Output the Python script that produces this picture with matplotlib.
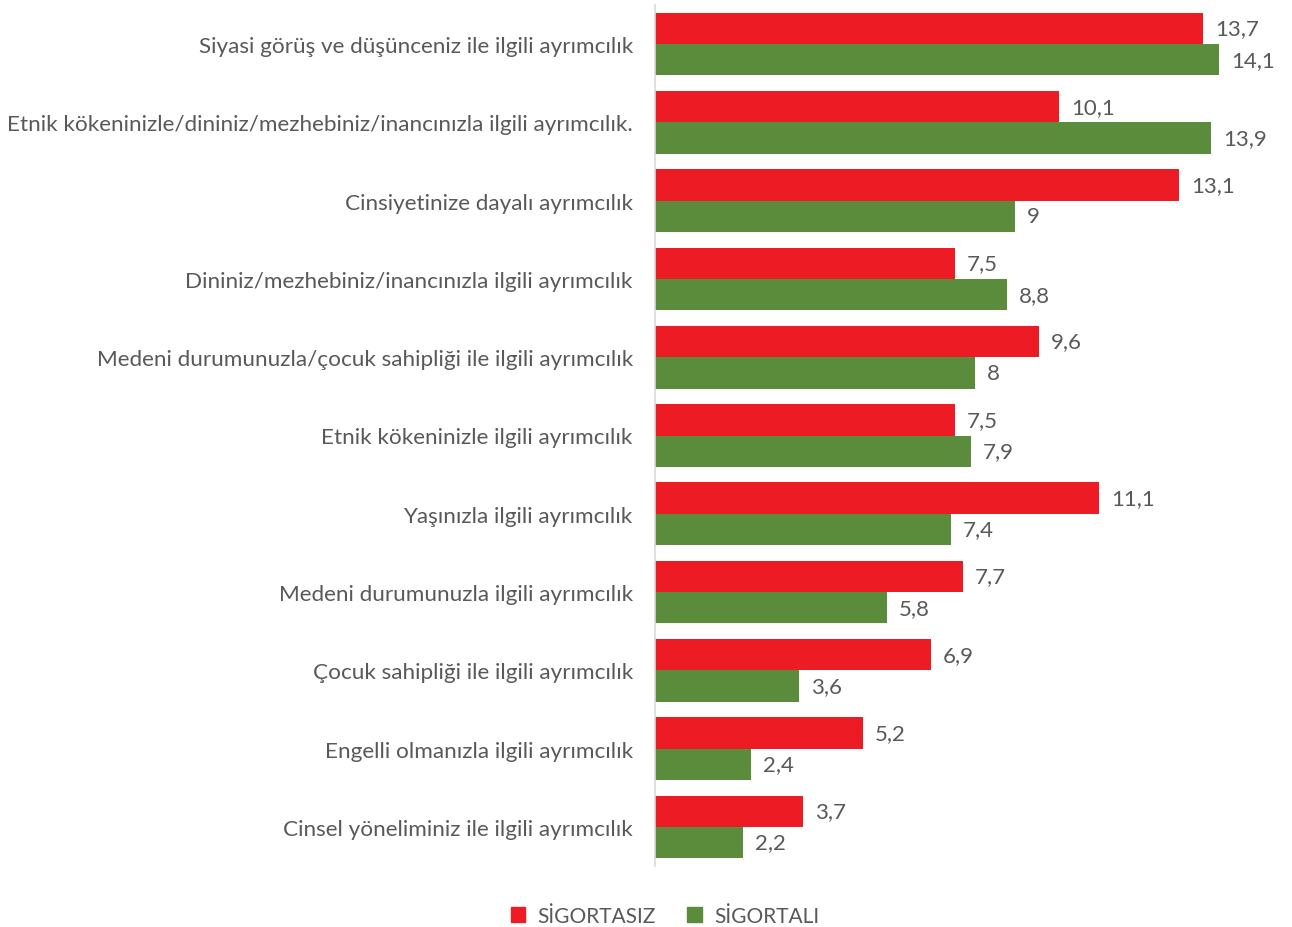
import matplotlib.pyplot as plt
import matplotlib as mpl
import numpy as np
from matplotlib.patches import Patch

mpl.rcParams["font.family"] = ["Lato", "DejaVu Sans"]

# --------- Veriler ---------
kategoriler = [
    "Siyasi görüş ve düşünceniz ile ilgili ayrımcılık",
    "Etnik kökeninizle/dininiz/mezhebiniz/inancınızla ilgili ayrımcılık.",
    "Cinsiyetinize dayalı ayrımcılık",
    "Dininiz/mezhebiniz/inancınızla ilgili ayrımcılık",
    "Medeni durumunuzla/çocuk sahipliği ile ilgili ayrımcılık",
    "Etnik kökeninizle ilgili ayrımcılık",
    "Yaşınızla ilgili ayrımcılık",
    "Medeni durumunuzla ilgili ayrımcılık",
    "Çocuk sahipliği ile ilgili ayrımcılık",
    "Engelli olmanızla ilgili ayrımcılık",
    "Cinsel yöneliminiz ile ilgili ayrımcılık",
]
sigortasiz = [13.7, 10.1, 13.1, 7.5, 9.6, 7.5, 11.1, 7.7, 6.9, 5.2, 3.7]
sigortali = [14.1, 13.9, 9.0, 8.8, 8.0, 7.9, 7.4, 5.8, 3.6, 2.4, 2.2]

KIRMIZI = "#ED1C24"
YESIL = "#5B8C3C"
GRI = "#595959"


def etiket(v):
    s = f"{v:.1f}".replace(".", ",")
    return s[:-2] if s.endswith(",0") else s


W, H = 1292, 928
fig = plt.figure(figsize=(W / 100, H / 100), dpi=100)
ax = fig.add_axes([655 / W, 1 - 867 / H, 632 / W, (867 - 6) / H])

y = np.arange(len(kategoriler))
h = 0.4
ax.barh(y - h / 2, sigortasiz, height=h, color=KIRMIZI, label="SİGORTASIZ")
ax.barh(y + h / 2, sigortali, height=h, color=YESIL, label="SİGORTALI")

for yi, v in zip(y, sigortasiz):
    ax.text(v + 0.3, yi - h / 2, etiket(v), va="center", ha="left",
            fontsize=16, color=GRI)
for yi, v in zip(y, sigortali):
    ax.text(v + 0.3, yi + h / 2, etiket(v), va="center", ha="left",
            fontsize=16, color=GRI)

ax.set_xlim(0, 15.8)
ax.set_ylim(len(kategoriler) - 0.5, -0.5)
ax.set_yticks(y)
ax.set_yticklabels(kategoriler, fontsize=16.2, color=GRI)
ax.tick_params(axis="y", length=0, pad=16)
ax.set_xticks([])
for s in ["top", "right", "bottom"]:
    ax.spines[s].set_visible(False)
ax.spines["left"].set_color("#D9D9D9")
ax.spines["left"].set_linewidth(1.2)

handles = [Patch(color=KIRMIZI, label="SİGORTASIZ"),
           Patch(color=YESIL, label="SİGORTALI")]
fig.legend(handles=handles, loc="center", bbox_to_anchor=(665 / W, 1 - 917 / H),
           ncol=2, frameon=False, fontsize=15, handlelength=0.7, handleheight=0.7,
           handletextpad=0.6, columnspacing=1.5, labelcolor=GRI)

fig.savefig("out.png", dpi=100)
